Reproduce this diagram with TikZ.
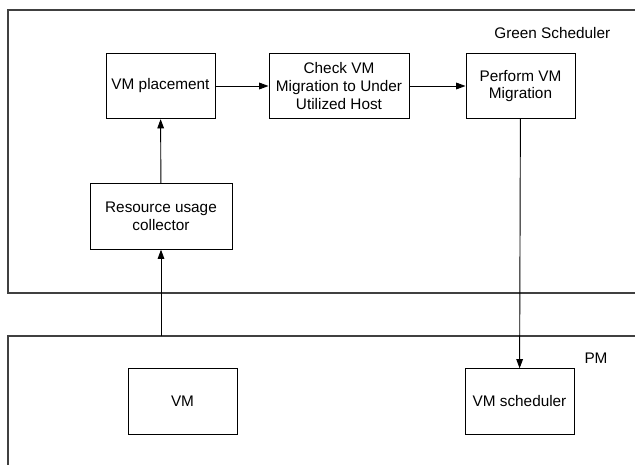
\documentclass[tikz,border=0pt]{standalone}
\usepackage{fontspec}
\setmainfont{Liberation Sans}
\usepackage{tikz}
\usetikzlibrary{positioning,arrows.meta}

\tikzset{
    block/.style={draw, line width=0.7pt, align=center, minimum width=81.75pt, minimum height=49pt, inner sep=2pt},
    frame/.style={draw=black!75, line width=0.9pt},
    flow/.style={-{Triangle[length=7pt,width=5pt]}, line width=0.7pt}
}

\begin{document}
\begin{tikzpicture}[x=0.75pt,y=-0.75pt,font=\fontsize{11.5}{13.2}\selectfont]
    \useasboundingbox (0,0) rectangle (635,464);

    % Green Scheduler
    \draw[frame] (650,10) -- (8,10) -- (8,293) -- (650,293);
    \node[anchor=east] (gstitle) at (615,33) {Green Scheduler};
    \node[block] (place) at (160.5,86) {VM placement};
    \node[block, minimum width=105pt] (check) at (339,86) {Check VM\\Migration to Under\\Utilized Host};
    \node[block] (perform) at (520.5,86) {Perform VM\\Migration};
    \node[block, minimum width=106.5pt] (collect) at (161,216.5) {Resource usage\\collector};

    % PM
    \draw[frame] (650,336) -- (8,336) -- (8,475);
    \node (pmtitle) at (596,358) {PM};
    \node[block] (vm) at (182.5,401.5) {VM};
    \node[block] (vmsched) at (519.5,401.5) {VM scheduler};
    \coordinate (pmtop) at (collect.south |- 0,336);

    \draw[flow] (place) -- (check);
    \draw[flow] (check) -- (perform);
    \draw[flow] (collect) -- (place);
    \draw[flow] (pmtop) -- (collect);
    \draw[flow] (perform) -- (vmsched);
\end{tikzpicture}
\end{document}
